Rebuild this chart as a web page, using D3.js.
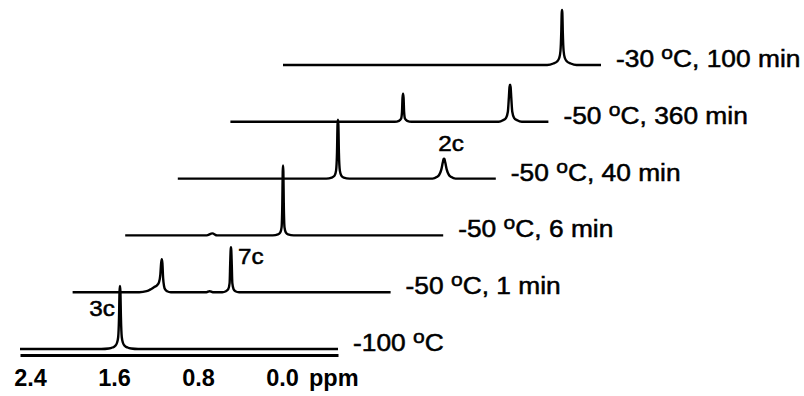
<!DOCTYPE html>
<html><head><meta charset="utf-8">
<script src="https://cdn.jsdelivr.net/npm/d3@7"></script>
<style>body{margin:0;background:#fff}svg{display:block}</style>
</head><body>
<svg id="chart" width="804" height="396"></svg>
<script>
// ---------- DATA ----------
// chemical shift tick labels (ppm)
const tickValues = [2.4, 1.6, 0.8, 0.0];
const ppmDomain = [2.495, -0.533];
// spectrum labels (bottom -> top)
const temps = ["-100", "-50", "-50", "-50", "-50", "-30"];
const times = [null, "1 min", "6 min", "40 min", "360 min", "100 min"];
// spectra: [ppm, intensity]
const spec0 = [[2.495,0],[1.72,0],[1.65,0.5],[1.615,1.5],[1.59,3],[1.572,6],[1.560,12],[1.552,32],[1.547,58],[1.543,63],[1.539,58],[1.534,32],[1.526,12],[1.514,6],[1.496,3],[1.471,1.5],[1.436,0.5],[1.37,0],[-0.533,0]];
const spec1 = [[2.495,0],[1.86,0],[1.79,1],[1.75,3],[1.72,5],[1.69,7],[1.672,10],[1.660,17],[1.652,29],[1.646,33],[1.640,29],[1.633,14],[1.624,6],[1.612,2.5],[1.595,1],[1.56,0],[1.22,0],[1.19,1],[1.16,0],[1.07,0],[1.035,1],[1.013,3],[1.000,9],[0.994,30],[0.990,42],[0.987,45],[0.984,42],[0.980,30],[0.974,9],[0.962,3],[0.945,1],[0.91,0],[-0.533,0]];
const spec2 = [[2.495,0],[1.72,0],[1.665,2],[1.62,0],[1.09,0],[1.04,1],[1.018,3],[1.006,8],[0.999,32],[0.995,64],[0.992,70],[0.989,64],[0.985,32],[0.978,8],[0.966,3],[0.945,1],[0.89,0],[-0.533,0]];
const spec3 = [[2.495,0],[1.08,0],[1.03,1],[1.002,3],[0.988,8],[0.979,26],[0.974,54],[0.970,59],[0.966,54],[0.961,26],[0.952,8],[0.938,3],[0.915,1],[0.86,0],[0.07,0],[0.03,1.5],[0.005,4],[-0.014,9],[-0.028,16],[-0.036,19.5],[-0.040,20],[-0.044,19.5],[-0.052,16],[-0.066,9],[-0.085,4],[-0.11,1.5],[-0.15,0],[-0.533,0]];
const spec4 = [[2.495,0],[0.93,0],[0.89,1],[0.870,3],[0.861,10],[0.856,24],[0.851,28],[0.846,24],[0.841,10],[0.832,3],[0.812,1],[0.77,0],[-0.06,0],[-0.10,1.5],[-0.130,4],[-0.147,10],[-0.157,25],[-0.163,35],[-0.168,37],[-0.173,35],[-0.179,25],[-0.189,10],[-0.206,4],[-0.236,1.5],[-0.28,0],[-0.533,0]];
const spec5 = [[2.495,0],[-0.02,0],[-0.08,1.5],[-0.115,3.5],[-0.135,7],[-0.147,14],[-0.155,34],[-0.159,52],[-0.162,55],[-0.165,52],[-0.169,34],[-0.177,14],[-0.189,7],[-0.209,3.5],[-0.244,1.5],[-0.30,0],[-0.533,0]];
const spectra = [spec0, spec1, spec2, spec3, spec4, spec5];
// peak assignments
const peakNames = ["3c", "7c", "2c"];
const peakSpectrum = [0, 1, 3];
const peakPpm = [1.543, 0.987, -0.040];

// ---------- LAYOUT ----------
const svg = d3.select("#chart");
const FONT = "'Liberation Sans', Arial, Helvetica, sans-serif";
const SX = 1.13;
const x = d3.scaleLinear().domain(ppmDomain).range([20, 338]);
const y = d3.scaleLinear().domain([0, 100]).range([0, -100]);
const shiftX = d3.scaleLinear().domain([0, 5]).range([0, 263]);
const base = d3.scaleLinear().domain([0, 5]).range([349, 65]);

const line = d3.line().x(d => x(d[0])).y(d => y(d[1])).curve(d3.curveMonotoneX);

spectra.forEach((s, i) => {
  const g = svg.append("g").attr("transform", `translate(${shiftX(i)},${base(i)})`);
  g.append("path").attr("d", line(s)).attr("fill", "none")
    .attr("stroke", "#000").attr("stroke-width", 2.4).attr("stroke-linejoin", "round");
  // label
  const lg = g.append("g").attr("transform", `translate(${x.range()[1] + 15},2) scale(${SX},1)`);
  const t = lg.append("text").attr("font-family", FONT).attr("font-size", 23.3).attr("fill", "#000")
    .attr("stroke", "#000").attr("stroke-width", 0.5);
  t.append("tspan").text(temps[i] + " ");
  t.append("tspan").attr("font-size", "0.8em").attr("dy", -8).text("o");
  t.append("tspan").attr("dy", 8).text("C" + (times[i] ? ", " + times[i] : ""));
});

// peak labels
const peakPlace = {"3c": {dx: -5, dy: -33, anchor: "end"}, "7c": {dx: 7, dy: -28, anchor: "start"}, "2c": {dx: 7, dy: -28, anchor: "middle"}};
peakNames.forEach((n, k) => {
  const i = peakSpectrum[k];
  const p = peakPlace[n];
  svg.append("g")
    .attr("transform", `translate(${shiftX(i) + x(peakPpm[k]) + p.dx},${base(i) + p.dy}) scale(${SX},1)`)
    .append("text").attr("font-family", FONT).attr("font-size", 21.5).attr("text-anchor", p.anchor)
    .attr("fill", "#000").attr("stroke", "#000").attr("stroke-width", 0.5).text(n);
});

// axis
const axis = d3.axisBottom(x).tickValues(tickValues).tickSize(0).tickSizeOuter(0).tickPadding(14)
  .tickFormat(d3.format(".1f"));
const ag = svg.append("g").attr("transform", "translate(0,355)").call(axis);
ag.select(".domain").attr("stroke", "#000").attr("stroke-width", 3);
ag.selectAll(".tick text").attr("font-family", FONT).attr("font-size", 23.5).attr("font-weight", "bold")
  .attr("fill", "#000");
ag.append("g").attr("transform", `translate(309,14)`)
  .append("text").attr("dy", "0.71em").attr("font-family", FONT).attr("font-size", 23.5).attr("font-weight", "bold")
  .attr("fill", "#000").attr("text-anchor", "start").text("ppm");
</script>
</body></html>
